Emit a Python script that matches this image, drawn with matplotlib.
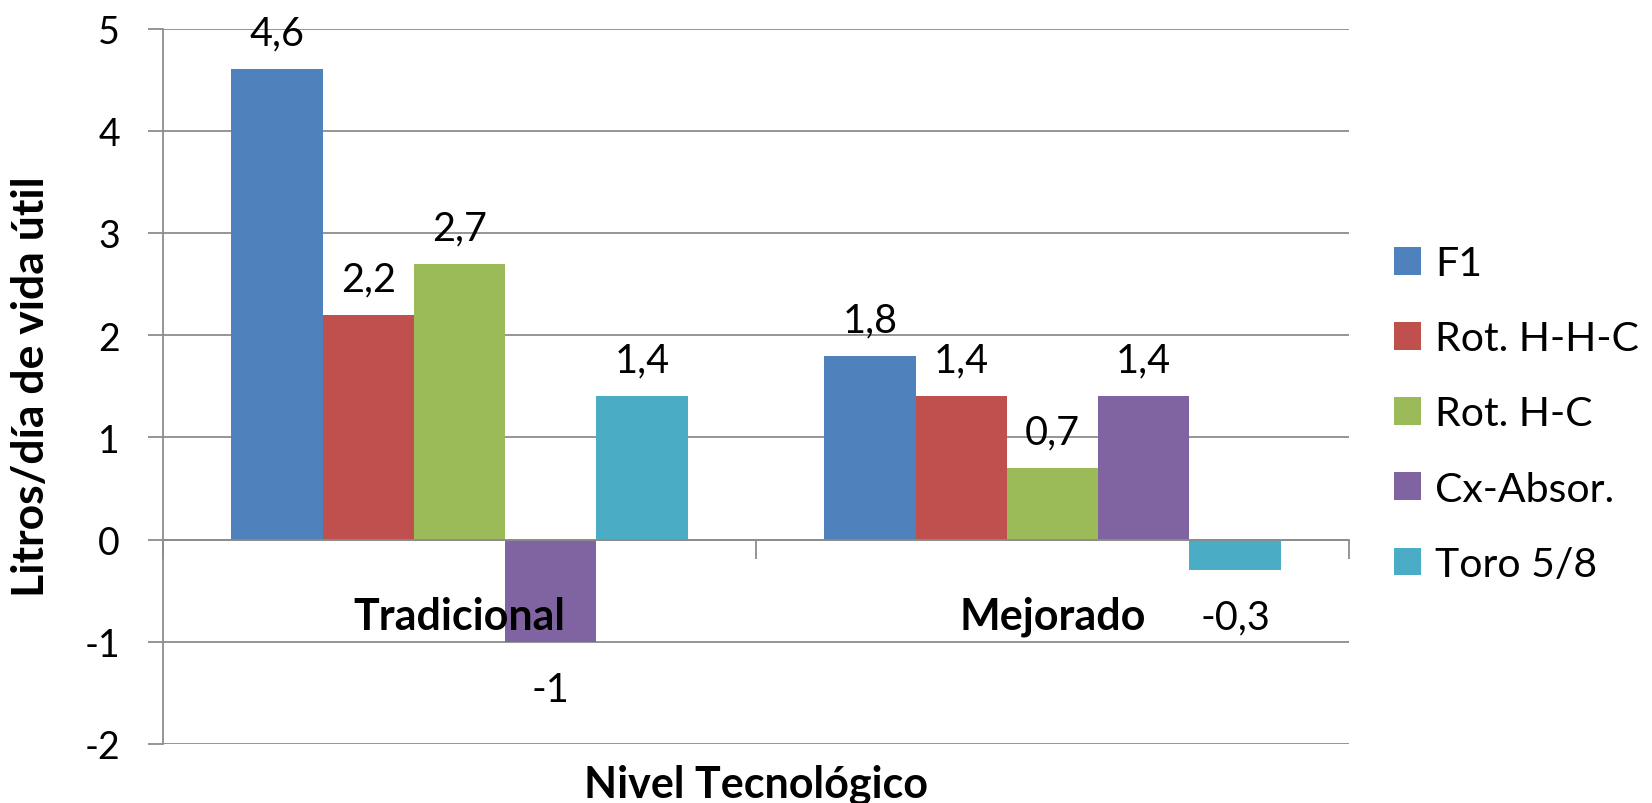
import matplotlib
matplotlib.use("Agg")
import matplotlib.pyplot as plt
from matplotlib.patches import Patch
import numpy as np

plt.rcParams['font.family'] = ['Lato', 'DejaVu Sans']

niveles = ['Tradicional', 'Mejorado']
series = ['F1', 'Rot. H-H-C', 'Rot. H-C', 'Cx-Absor.', 'Toro 5/8']
valores = {
    'F1': [4.6, 1.8],
    'Rot. H-H-C': [2.2, 1.4],
    'Rot. H-C': [2.7, 0.7],
    'Cx-Absor.': [-1, 1.4],
    'Toro 5/8': [1.4, -0.3],
}
colores = ['#4F81BD', '#C0504D', '#9BBB59', '#8064A2', '#4BACC6']
yticks = [-2, -1, 0, 1, 2, 3, 4, 5]

fig = plt.figure(figsize=(16.52, 8.04), dpi=100)
ax = fig.add_axes([163 / 1652, 59 / 804, (1349 - 163) / 1652, (745 - 29.5) / 804])

grid_col = '#8c8c8c'
n = len(series)
w = 1 / (n + 1.5)  # gap 150% como Excel
x = np.arange(len(niveles))

for i, s in enumerate(series):
    pos = x + (i - (n - 1) / 2) * w
    ax.bar(pos, valores[s], width=w, color=colores[i], zorder=3, label=s)
    for px, v in zip(pos, valores[s]):
        txt = f"{v:g}".replace('.', ',')
        off = 26 if v >= 0 else -34
        ax.annotate(txt, (px, v), xytext=(0, off), textcoords='offset points',
                    ha='center', va='center', fontsize=28.5, zorder=4)

# etiquetas de categoria encima de las barras
for xi, nom in zip(x, niveles):
    ax.annotate(nom, (xi, 0), xytext=(0, -55), textcoords='offset points',
                ha='center', va='center', fontsize=31, fontweight='bold', zorder=6)

ax.set_xlim(-0.5, len(niveles) - 0.5)
ax.set_ylim(-2, 5)
ax.set_yticks(yticks)
ax.set_yticklabels([str(t) for t in yticks])
ax.yaxis.grid(True, color=grid_col, linewidth=1.3, zorder=0)
ax.tick_params(axis='y', length=11, width=1.3, color=grid_col, pad=20, labelsize=27)

for sp in ['top', 'right']:
    ax.spines[sp].set_visible(False)
ax.spines['left'].set_color(grid_col)
ax.spines['left'].set_linewidth(1.3)
ax.spines['bottom'].set_position(('data', 0))
ax.spines['bottom'].set_color(grid_col)
ax.spines['bottom'].set_linewidth(1.3)
ax.spines['bottom'].set_zorder(5)

ax.set_xticks(np.arange(len(niveles) + 1) - 0.5)
ax.set_xticklabels([])
ax.tick_params(axis='x', which='major', length=14, width=1.3, color=grid_col)

fig.text(31 / 1652, 1 - 387 / 804, 'Litros/día de vida útil', rotation=90,
         ha='center', va='center', fontsize=32, fontweight='bold')
fig.text(756 / 1652, 1 - 785 / 804, 'Nivel Tecnológico',
         ha='center', va='center', fontsize=31, fontweight='bold')

handles = [Patch(facecolor=c, label=s) for c, s in zip(colores, series)]
fig.legend(handles=handles, loc='center left', bbox_to_anchor=(1394 / 1652, 1 - 415 / 804),
           frameon=False, fontsize=29.5, handlelength=0.66, handleheight=0.66,
           handletextpad=0.34, labelspacing=0.93, borderaxespad=0, borderpad=0)

fig.savefig('out.png', dpi=100)
